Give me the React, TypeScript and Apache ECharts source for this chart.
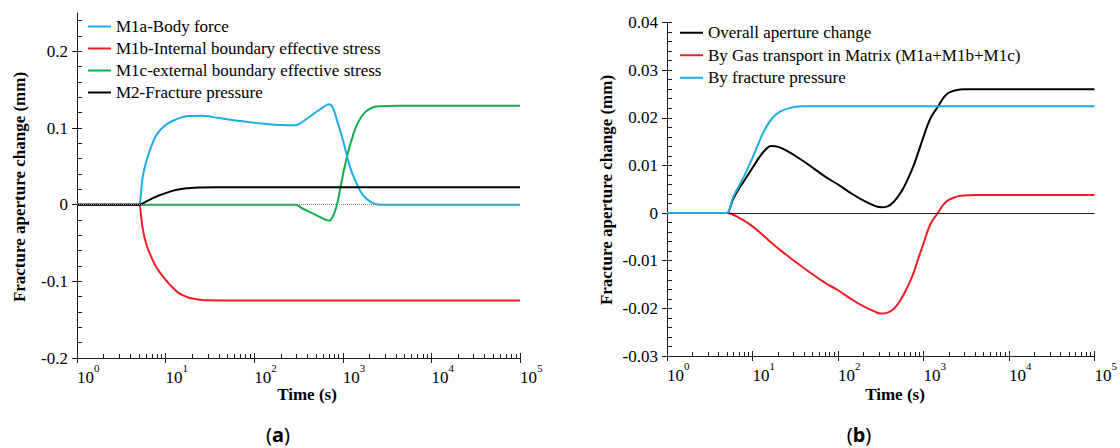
import React, { useEffect, useRef } from "react";
import * as echarts from "echarts";

const SERIF = "Liberation Serif";
const AXIS_COLOR = "#1a1a1a";

// ---------- Panel (a) ----------
const aNames = [
  "M1a-Body force",
  "M1b-Internal boundary effective stress",
  "M1c-external boundary effective stress",
  "M2-Fracture pressure",
];
const aColors = ["#1aaee5", "#ee1c24", "#12ad4b", "#000000"];

const aM1aT = [1, 4.9, 5, 5.5, 6, 7, 8, 10, 13, 18, 25, 40, 70, 120, 200, 280, 320, 450, 600, 700, 760, 850, 1000, 1200, 1400, 1700, 2100, 2600, 5000, 100000];
const aM1aV = [0, 0, 0, 0.035, 0.055, 0.078, 0.092, 0.104, 0.111, 0.1155, 0.116, 0.113, 0.109, 0.106, 0.104, 0.1035, 0.105, 0.117, 0.127, 0.131, 0.128, 0.112, 0.085, 0.05, 0.03, 0.012, 0.003, 0, 0, 0];

const aM1bT = [1, 4.9, 5, 5.5, 6, 7, 8, 10, 12, 14, 17, 20, 25, 30, 40, 60, 100000];
const aM1bV = [0, 0, 0, -0.03, -0.05, -0.07, -0.083, -0.098, -0.108, -0.115, -0.12, -0.1225, -0.124, -0.1248, -0.125, -0.125, -0.125];

const aM1cT = [1, 280, 290, 350, 450, 550, 650, 700, 760, 850, 950, 1100, 1300, 1500, 1800, 2200, 2800, 4000, 100000];
const aM1cV = [0, 0, 0, -0.005, -0.011, -0.016, -0.02, -0.021, -0.017, -0.002, 0.025, 0.06, 0.09, 0.108, 0.121, 0.127, 0.1285, 0.129, 0.129];

const aM2T = [1, 4.9, 5, 6, 7, 8, 10, 13, 18, 25, 40, 100000];
const aM2V = [0, 0, 0, 0.004, 0.008, 0.011, 0.015, 0.019, 0.0215, 0.0225, 0.0228, 0.0228];

const aYMajor = [-0.2, -0.1, 0, 0.1, 0.2];

// ---------- Panel (b) ----------
const bNames = [
  "Overall aperture change",
  "By Gas transport in Matrix (M1a+M1b+M1c)",
  "By fracture pressure",
];
const bColors = ["#000000", "#ee1c24", "#1aaee5"];

const bOverallT = [1, 4.9, 5, 6, 7, 8, 10, 12, 14, 16.5, 20, 25, 35, 50, 70, 100, 150, 200, 270, 320, 380, 450, 550, 650, 760, 870, 1000, 1200, 1470, 1700, 1950, 2400, 3000, 100000];
const bOverallV = [0, 0, 0, 0.0031, 0.0052, 0.0068, 0.0095, 0.0117, 0.0132, 0.0141, 0.0139, 0.0131, 0.0115, 0.0096, 0.0077, 0.006, 0.0039, 0.0026, 0.0015, 0.0012, 0.0014, 0.0024, 0.0045, 0.007, 0.0098, 0.0128, 0.016, 0.0198, 0.0223, 0.0241, 0.0252, 0.0258, 0.026, 0.026];

const bGasT = [1, 4.9, 5, 6, 7, 8, 10, 13, 17, 25, 35, 50, 70, 100, 150, 200, 270, 320, 380, 450, 550, 650, 760, 870, 1000, 1200, 1470, 1700, 1950, 2400, 3000, 4000, 100000];
const bGasV = [0, 0, 0, -0.0004, -0.001, -0.0016, -0.0028, -0.0045, -0.0064, -0.0088, -0.0108, -0.0128, -0.0146, -0.0162, -0.0183, -0.0196, -0.0207, -0.0211, -0.0209, -0.0201, -0.018, -0.0155, -0.0127, -0.0095, -0.0064, -0.0024, 0, 0.0017, 0.0027, 0.0034, 0.0037, 0.0038, 0.0038];

const bFracT = [1, 4.9, 5, 6, 7, 8, 10, 12, 14, 17, 21, 28, 40, 100000];
const bFracV = [0, 0, 0, 0.0035, 0.0058, 0.0078, 0.0116, 0.015, 0.0176, 0.0199, 0.0213, 0.0221, 0.0224, 0.0224];

const bYMajor = [-0.03, -0.02, -0.01, 0, 0.01, 0.02, 0.03, 0.04];

// ---------- shared ticks ----------
const xMajor = [1, 10, 100, 1000, 10000, 100000];
const xMinor: number[] = [];
for (let e = 0; e < 5; e++) for (let k = 2; k <= 9; k++) xMinor.push(k * Math.pow(10, e));

function minorLinear(min: number, max: number, step: number, every: number, dec: number) {
  const out: number[] = [];
  const n0 = Math.round(min / step);
  const n1 = Math.round(max / step);
  for (let i = n0; i <= n1; i++) {
    if (i % every !== 0) out.push(parseFloat((i * step).toFixed(dec)));
  }
  return out;
}
const aYMinor = minorLinear(-0.2, 0.24, 0.02, 5, 2);
const bYMinor = minorLinear(-0.03, 0.04, 0.002, 5, 3);

const zip = (t: number[], v: number[]) => t.map((x, i) => [x, v[i]]);

const lineStyle = { color: AXIS_COLOR, width: 1 };

function xAxesFor(grid: number) {
  const base = {
    gridIndex: grid,
    type: "log" as const,
    logBase: 10,
    min: 1,
    max: 100000,
    position: "bottom" as const,
    splitLine: { show: false },
    minorTick: { show: false },
  };
  return [
    {
      ...base,
      axisLine: { show: true, onZero: false, lineStyle },
      axisTick: { show: true, inside: true, length: 5, customValues: xMajor, lineStyle },
      axisLabel: {
        show: true,
        customValues: xMajor,
        align: "left",
        margin: 4,
        formatter: (v: number) => `{b|10}{s|${Math.round(Math.log10(v))}}`,
        rich: {
          b: { fontSize: 17, fontFamily: SERIF, color: "#000", verticalAlign: "bottom", lineHeight: 24 },
          s: { fontSize: 11, fontFamily: SERIF, color: "#000", verticalAlign: "top", lineHeight: 24 },
        },
      },
    },
    {
      ...base,
      axisLine: { show: false, onZero: false },
      axisTick: { show: true, inside: false, length: 5, customValues: xMajor, lineStyle },
      axisLabel: { show: false },
    },
    {
      ...base,
      axisLine: { show: false, onZero: false },
      axisTick: { show: true, inside: true, length: 4, customValues: xMinor, lineStyle },
      axisLabel: { show: false },
    },
  ];
}

function yAxesFor(grid: number, min: number, max: number, major: number[], minor: number[]) {
  const base = {
    gridIndex: grid,
    type: "value" as const,
    min,
    max,
    position: "left" as const,
    splitLine: { show: false },
    minorTick: { show: false },
  };
  return [
    {
      ...base,
      axisLine: { show: true, onZero: false, lineStyle },
      axisTick: { show: true, inside: true, length: 5, customValues: major, lineStyle },
      axisLabel: {
        show: true,
        customValues: major,
        margin: 9,
        fontSize: 17,
        fontFamily: SERIF,
        color: "#000",
        formatter: (v: number) => (v === 0 ? "0" : String(v)),
      },
    },
    {
      ...base,
      axisLine: { show: false, onZero: false },
      axisTick: { show: true, inside: false, length: 5, customValues: major, lineStyle },
      axisLabel: { show: false },
    },
    {
      ...base,
      axisLine: { show: false, onZero: false },
      axisTick: { show: true, inside: true, length: 5, customValues: minor, lineStyle },
      axisLabel: { show: false },
    },
  ];
}

function lineSeries(name: string, color: string, data: number[][], xi: number, yi: number, extra: any = {}) {
  return {
    type: "line",
    name,
    xAxisIndex: xi,
    yAxisIndex: yi,
    data,
    symbol: "none",
    showSymbol: false,
    smooth: 0.45,
    lineStyle: { color, width: 2 },
    itemStyle: { color },
    ...extra,
  };
}

const legendText = { fontSize: 17, fontFamily: SERIF, color: "#000" };

const titleFont = `bold 17px "Liberation Serif", serif`;

export default function App() {
  const ref = useRef<HTMLDivElement>(null);
  useEffect(() => {
    document.body.style.margin = "0";
    const chart = echarts.init(ref.current!, null, { renderer: "svg" });
    const option: any = {
      animation: false,
      backgroundColor: "#fff",
      textStyle: { fontFamily: SERIF },
      grid: [
        { left: 77, top: 13, width: 443, height: 345 },
        { left: 667, top: 22.5, width: 435, height: 333.5 },
      ],
      xAxis: [...xAxesFor(0), ...xAxesFor(1)],
      yAxis: [
        ...yAxesFor(0, -0.2, 0.25, aYMajor, aYMinor),
        ...yAxesFor(1, -0.03, 0.04, bYMajor, bYMinor),
      ],
      legend: [
        {
          data: aNames,
          orient: "vertical",
          left: 88,
          top: 15.5,
          padding: 0,
          icon: "rect",
          itemWidth: 23,
          itemHeight: 2,
          itemGap: 0,
          selectedMode: false,
          textStyle: { ...legendText, lineHeight: 22 },
        },
        {
          data: bNames,
          orient: "vertical",
          left: 680,
          top: 21.5,
          padding: 0,
          icon: "rect",
          itemWidth: 23,
          itemHeight: 2,
          itemGap: 0,
          selectedMode: false,
          textStyle: { ...legendText, lineHeight: 22.5 },
        },
      ],
      series: [
        lineSeries(aNames[2], aColors[2], zip(aM1cT, aM1cV), 0, 0, {
          markLine: {
            silent: true,
            symbol: "none",
            label: { show: false },
            lineStyle: { type: "dotted", color: "#888", width: 1 },
            data: [{ yAxis: 0 }],
          },
          z: 2,
        }),
        lineSeries(aNames[0], aColors[0], zip(aM1aT, aM1aV), 0, 0, { z: 3 }),
        lineSeries(aNames[1], aColors[1], zip(aM1bT, aM1bV), 0, 0, { z: 3 }),
        lineSeries(aNames[3], aColors[3], zip(aM2T, aM2V), 0, 0, { z: 4 }),
        lineSeries(bNames[1], bColors[1], zip(bGasT, bGasV), 3, 3, {
          markLine: {
            silent: true,
            symbol: "none",
            label: { show: false },
            lineStyle: { type: "solid", color: "#222", width: 1 },
            data: [{ yAxis: 0 }],
          },
          z: 3,
        }),
        lineSeries(bNames[0], bColors[0], zip(bOverallT, bOverallV), 3, 3, { z: 4 }),
        lineSeries(bNames[2], bColors[2], zip(bFracT, bFracV), 3, 3, { z: 5 }),
      ],
      graphic: [
        {
          type: "text",
          x: 19.5,
          y: 187,
          rotation: Math.PI / 2,
          style: { text: "Fracture aperture change (mm)", font: titleFont, fill: "#000", textAlign: "center", textVerticalAlign: "middle" },
        },
        {
          type: "text",
          x: 606,
          y: 190,
          rotation: Math.PI / 2,
          style: { text: "Fracture aperture change (mm)", font: titleFont, fill: "#000", textAlign: "center", textVerticalAlign: "middle" },
        },
        {
          type: "text",
          x: 307,
          y: 394.5,
          style: { text: "Time (s)", font: titleFont, fill: "#000", textAlign: "center", textVerticalAlign: "middle" },
        },
        {
          type: "text",
          x: 895,
          y: 394.5,
          style: { text: "Time (s)", font: titleFont, fill: "#000", textAlign: "center", textVerticalAlign: "middle" },
        },
        {
          type: "text",
          x: 278,
          y: 434,
          style: {
            text: "{p|(}{b|a}{p|)}",
            textAlign: "center",
            textVerticalAlign: "middle",
            rich: {
              p: { fontSize: 20, fontFamily: "Noto Sans", fill: "#000" },
              b: { fontSize: 20, fontFamily: "Noto Sans", fontWeight: "bold", fill: "#000" },
            },
          },
        },
        {
          type: "text",
          x: 859,
          y: 434,
          style: {
            text: "{p|(}{b|b}{p|)}",
            textAlign: "center",
            textVerticalAlign: "middle",
            rich: {
              p: { fontSize: 20, fontFamily: "Noto Sans", fill: "#000" },
              b: { fontSize: 20, fontFamily: "Noto Sans", fontWeight: "bold", fill: "#000" },
            },
          },
        },
      ],
    };
    chart.setOption(option);
    return () => chart.dispose();
  }, []);
  return (
    <div
      ref={ref}
      style={{ position: "absolute", left: 0, top: 0, width: 1120, height: 448 }}
    />
  );
}
